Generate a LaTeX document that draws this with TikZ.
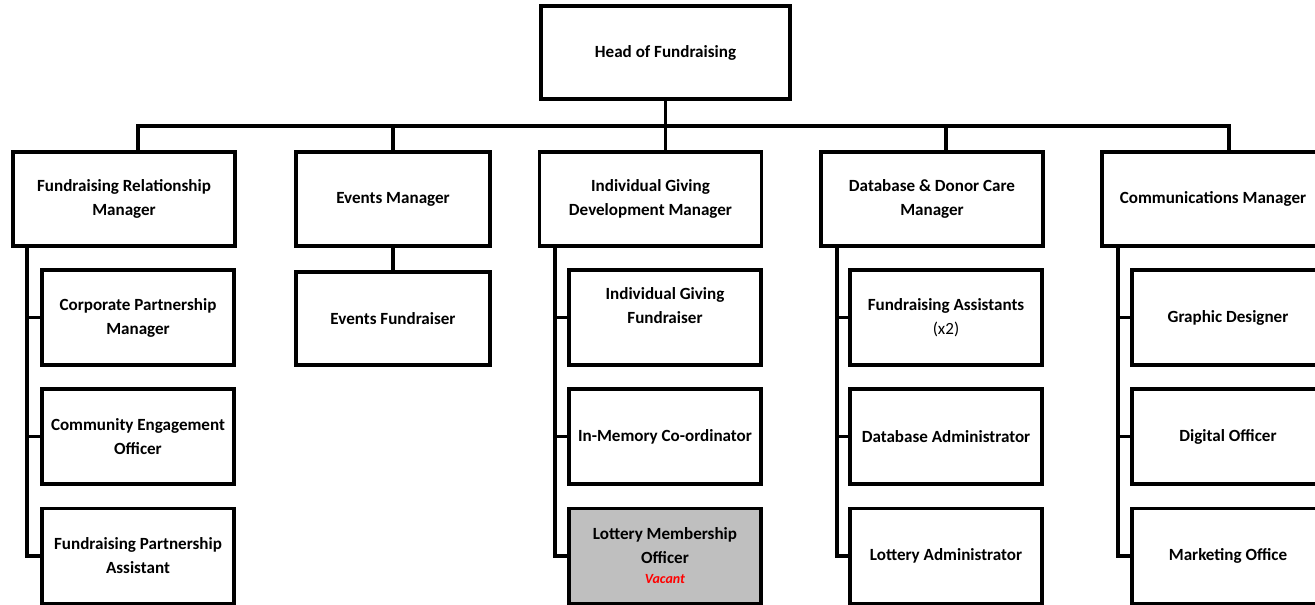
\documentclass[tikz,border=0pt]{standalone}
\usepackage{fontspec}
\setmainfont{Carlito}
\definecolor{vacgray}{HTML}{BFBFBF}
\definecolor{vacred}{HTML}{FF0000}
\begin{document}
\begin{tikzpicture}[x=0.75pt,y=-0.75pt,
  box/.style={draw=black,line width=2.4pt,fill=white,align=center,
    font=\fontsize{12.8pt}{18pt}\selectfont\bfseries,inner sep=0pt},
  headbox/.style={box,minimum width=186.75pt,minimum height=69.75pt},
  midbox/.style={box,minimum width=166.5pt,minimum height=70.5pt},
  evbox/.style={box,minimum width=145.5pt,minimum height=70.5pt},
  subbox/.style={box,minimum width=144pt,minimum height=71.25pt},
  conn/.style={line width=2.4pt,draw=black}]
\useasboundingbox (0,0) rectangle (1315,604);

% head
\node[headbox] (head) at (665.5,52.5) {Head of Fundraising};

% level 2
\node[midbox] (frm) at (124,199) {Fundraising Relationship\\Manager};
\node[evbox] (em) at (393,199) {Events Manager};
\node[midbox] (igdm) at (650.5,199) {Individual Giving\\Development Manager};
\node[midbox] (db) at (932,199) {Database \& Donor Care\\Manager};
\node[midbox] (cm) at (1213,199) {Communications Manager};

% subordinates
\node[subbox] (f1) at (138,317.5) {Corporate Partnership\\Manager};
\node[subbox] (f2) at (138,436.5) {Community Engagement\\Officer};
\node[subbox] (f3) at (138,556) {Fundraising Partnership\\Assistant};

\node[evbox,minimum height=69.75pt] (e1) at (393,318.5) {Events Fundraiser};

\node[subbox] (i1) at (665,317.5) {Individual Giving\\Fundraiser\\\mbox{}};
\node[subbox] (i2) at (665,436.5) {In-Memory Co-ordinator};
\node[subbox,fill=vacgray] (i3) at (665,556) {Lottery Membership\\Officer\\[-3pt]{\fontsize{10.5pt}{12pt}\selectfont\itshape\color{vacred}Vacant}};

\node[subbox] (d1) at (946,317.5) {Fundraising Assistants\\{\mdseries (x2)}};
\node[subbox] (d2) at (946,436.5) {Database Administrator};
\node[subbox] (d3) at (946,556) {Lottery Administrator};

\node[subbox] (c1) at (1228,317.5) {Graphic Designer};
\node[subbox] (c2) at (1228,436.5) {Digital Officer};
\node[subbox] (c3) at (1228,556) {Marketing Office};

% connectors
\coordinate (busL) at (138,126);
\coordinate (busR) at (1229,126);
\coordinate (busE) at (393,126);
\coordinate (busD) at (946,126);
\draw[conn] (frm.north -| busL) -- (busL) -- (busR) -- (cm.north -| busR);
\draw[conn] (head.south) -- (head.south |- igdm.north);
\draw[conn] (busE) -- (busE |- em.north);
\draw[conn] (busD) -- (busD |- db.north);
\draw[conn] (em.south) -- (e1.north);

\coordinate (fs) at (27,246);
\coordinate (is) at (555,246);
\coordinate (ds) at (837,246);
\coordinate (cs) at (1118,246);
\draw[conn] (fs) |- (f3.west);
\draw[conn] (fs |- f1.west) -- (f1.west);
\draw[conn] (fs |- f2.west) -- (f2.west);
\draw[conn] (is) |- (i3.west);
\draw[conn] (is |- i1.west) -- (i1.west);
\draw[conn] (is |- i2.west) -- (i2.west);
\draw[conn] (ds) |- (d3.west);
\draw[conn] (ds |- d1.west) -- (d1.west);
\draw[conn] (ds |- d2.west) -- (d2.west);
\draw[conn] (cs) |- (c3.west);
\draw[conn] (cs |- c1.west) -- (c1.west);
\draw[conn] (cs |- c2.west) -- (c2.west);
\end{tikzpicture}
\end{document}
